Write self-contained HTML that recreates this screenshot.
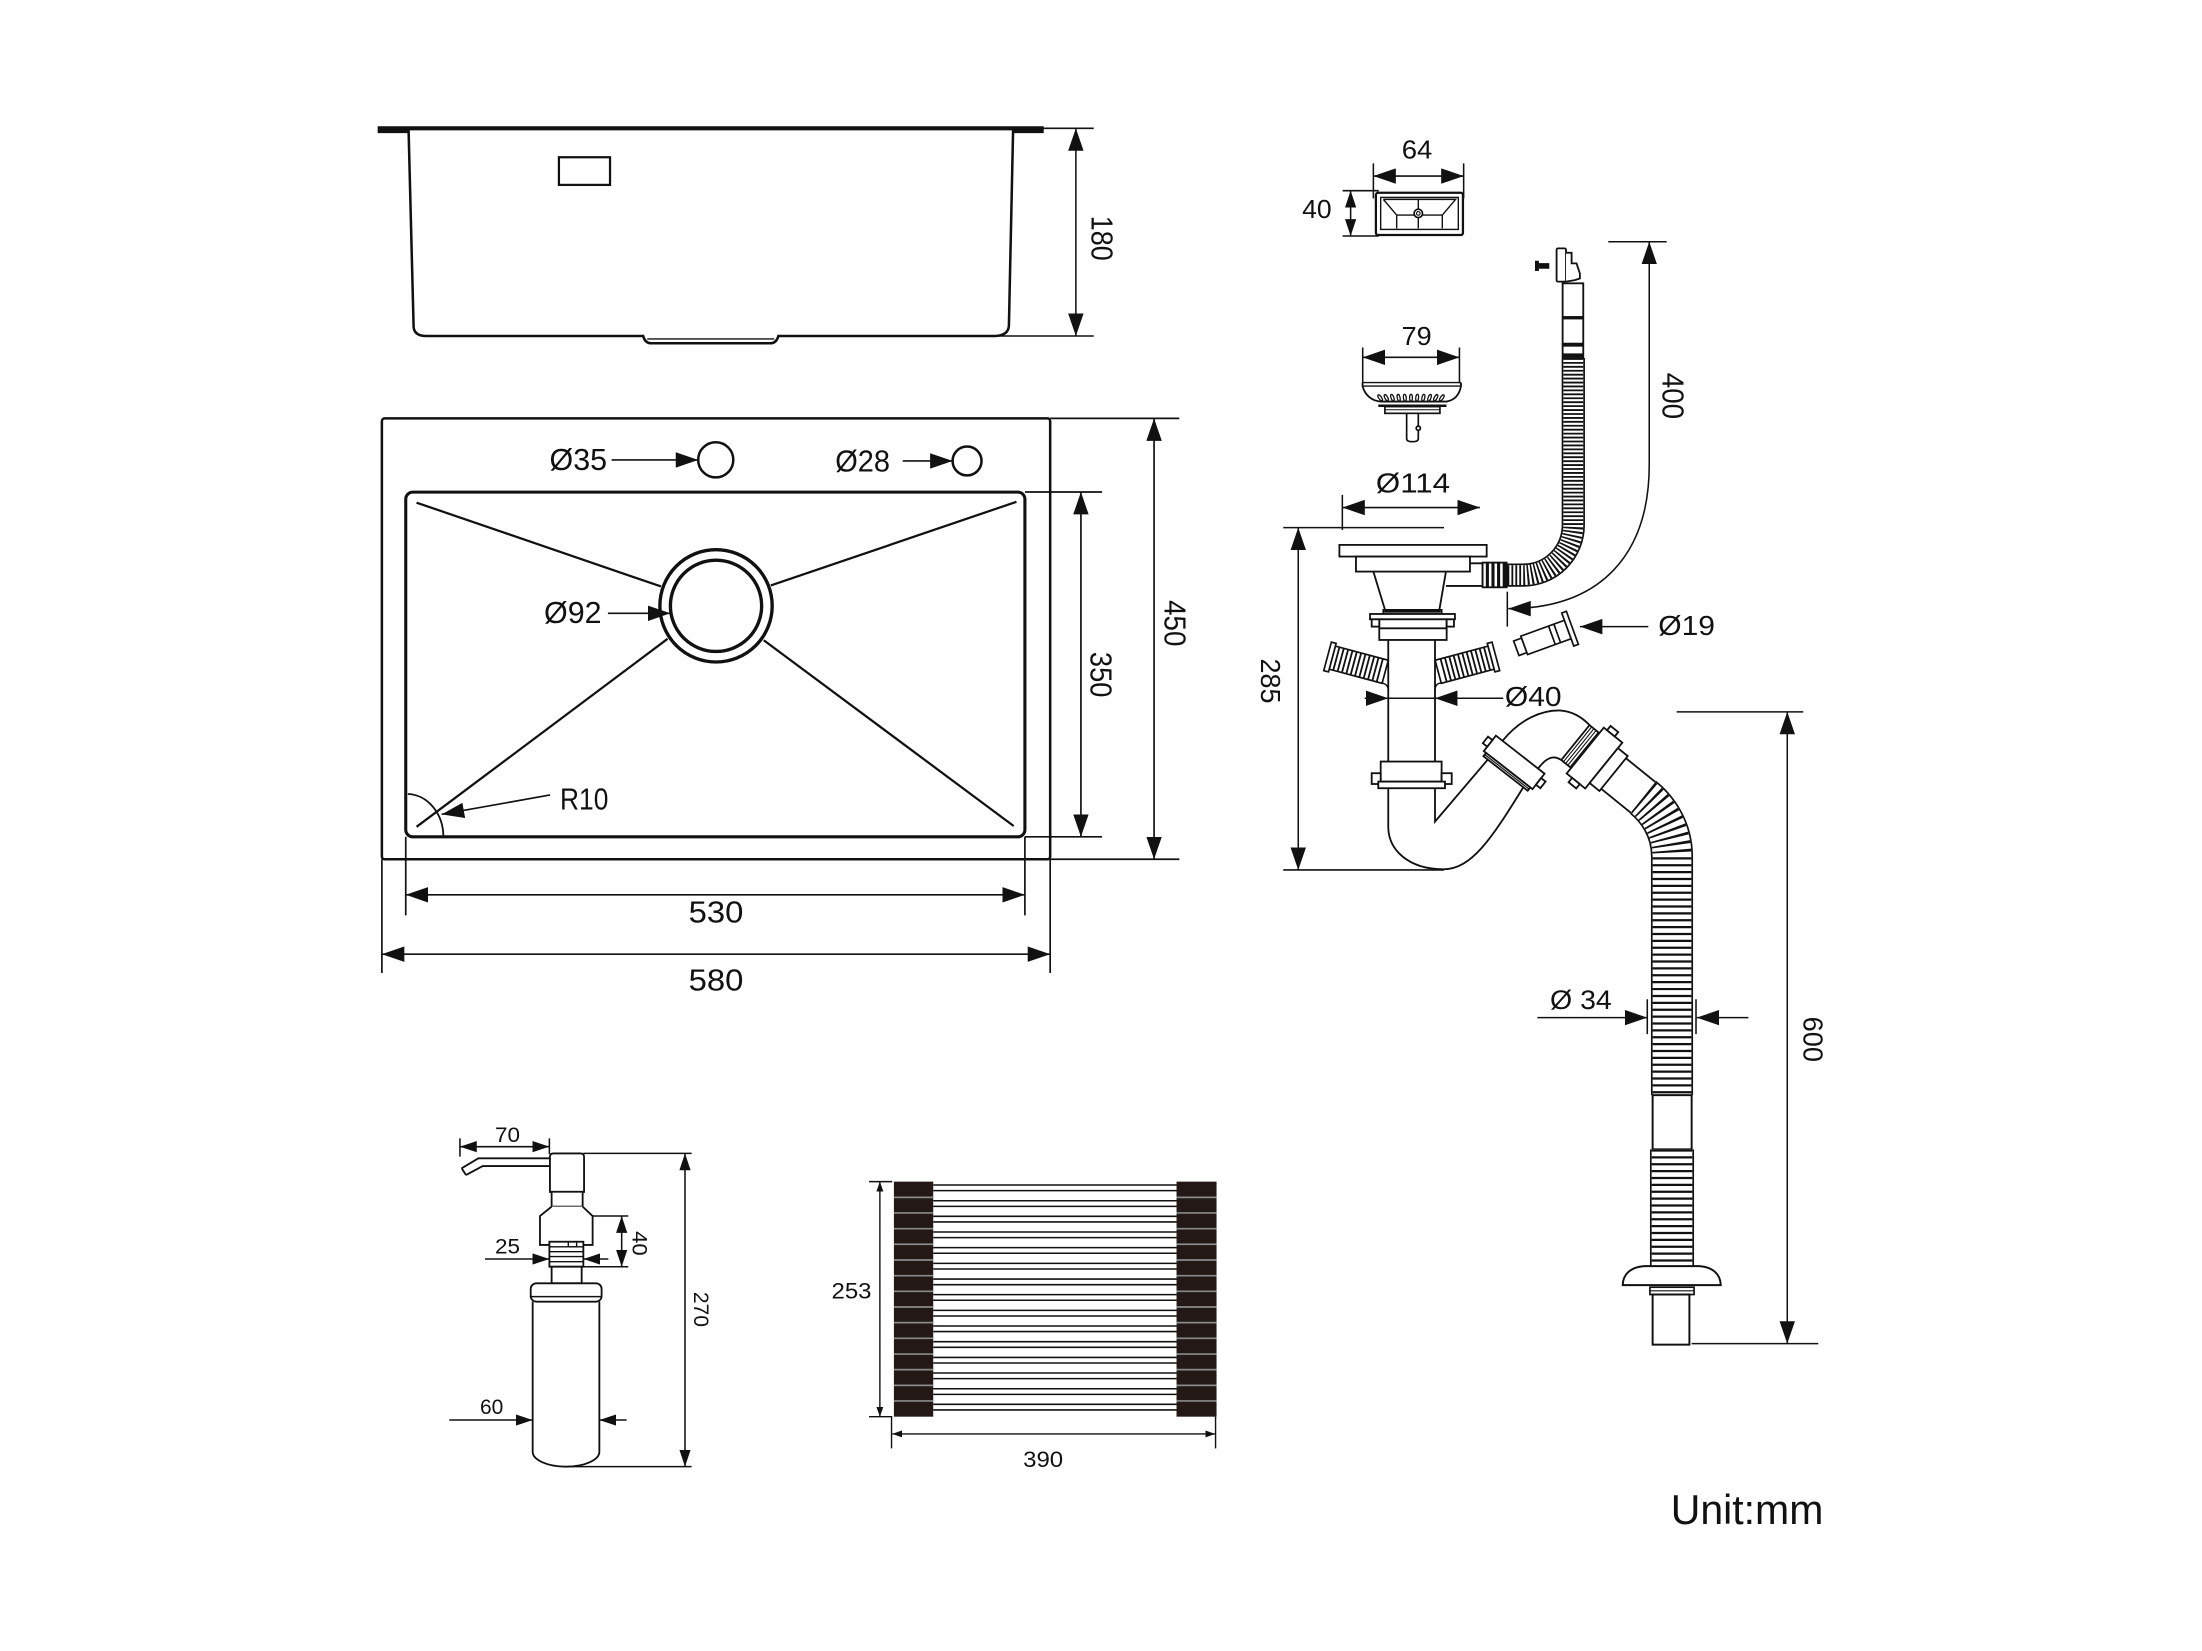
<!DOCTYPE html>
<html><head><meta charset="utf-8"><style>
html,body{margin:0;padding:0;background:#fff;}
svg{display:block;}
text{font-family:"Liberation Sans",Arial,sans-serif;fill:#111;}
</style></head><body>
<svg width="2202" height="1651" viewBox="0 0 1568.4 1175.9" preserveAspectRatio="none" xmlns="http://www.w3.org/2000/svg">
<defs>
<marker id="A" viewBox="0 0 16 11" refX="16" refY="5.5" markerWidth="16" markerHeight="11" markerUnits="userSpaceOnUse" orient="auto-start-reverse"><path d="M0,0L16,5.5L0,11z" fill="#111"/></marker>
<marker id="B" viewBox="0 0 12 8" refX="12" refY="4" markerWidth="12" markerHeight="8" markerUnits="userSpaceOnUse" orient="auto-start-reverse"><path d="M0,0L12,4L0,8z" fill="#111"/></marker>
<marker id="C" viewBox="0 0 7 5" refX="7" refY="2.5" markerWidth="7" markerHeight="5" markerUnits="userSpaceOnUse" orient="auto-start-reverse"><path d="M0,0L7,2.5L0,5z" fill="#111"/></marker>
</defs>
<rect width="1568.4" height="1175.9" fill="#fff"/>

<!-- ===== Side view ===== -->
<g fill="none" stroke="#111" stroke-width="1.6">
 <path d="M269 91.4H743.4" stroke-width="3"/>
 <path d="M269 93.6H291M721.6 93.6H743.4" stroke-width="2.4"/>
 <path d="M291 92L294.6 233Q295.2 239.3 303.6 239.3H458.1Q459.5 244.5 464 244.5H548.5Q553 244.5 554.4 239.3H708.8Q718.2 239 718.6 232L721.6 92" stroke-width="1.8"/>
 <path d="M461 241.4H551.5" stroke-width="0.9"/>
 <rect x="398.1" y="112" width="36.4" height="19.7"/>
</g>
<g stroke="#111" stroke-width="1.1" fill="none">
 <path d="M743 91.4H779M710.6 239.3H779"/>
 <line x1="766.3" y1="91.4" x2="766.3" y2="239.3" marker-start="url(#A)" marker-end="url(#A)"/>
</g>
<text transform="translate(785.2,169.7) rotate(90)" y="7.7" font-size="21.5" text-anchor="middle" textLength="32" lengthAdjust="spacingAndGlyphs">180</text>

<!-- ===== Top view ===== -->
<g fill="none" stroke="#111">
 <rect x="272" y="298" width="476" height="314" rx="2" stroke-width="1.8"/>
 <rect x="289" y="350.5" width="441" height="245.5" rx="5" stroke-width="2.2"/>
 <path d="M296.7 358L470.8 417.7M724 357.4L549 417M475.5 455L296.7 588.9M544 456L722 588.3" stroke-width="1.6"/>
 <circle cx="510" cy="431.5" r="40" stroke-width="2.4" fill="#fff"/>
 <circle cx="510" cy="431.5" r="32.5" stroke-width="2.4"/>
 <circle cx="509.8" cy="327.5" r="12.5" stroke-width="1.8"/>
 <circle cx="688.8" cy="328.3" r="10.3" stroke-width="1.8"/>
 <path d="M290.5 565.5A26 30.5 0 0 1 315.8 596" stroke-width="1.3"/>
</g>
<g stroke="#111" stroke-width="1.2" fill="none">
 <line x1="435.6" y1="327.6" x2="497.3" y2="327.6" marker-end="url(#A)"/>
 <line x1="643" y1="328.3" x2="678.5" y2="328.3" marker-end="url(#A)"/>
 <line x1="433" y1="436.8" x2="477.5" y2="436.8" marker-end="url(#A)"/>
 <line x1="391.8" y1="566.2" x2="314.6" y2="580" marker-end="url(#A)"/>
 <path d="M730 350.4H785M730 596H785"/>
 <line x1="769.9" y1="350.4" x2="769.9" y2="596" marker-start="url(#A)" marker-end="url(#A)"/>
 <path d="M748 298H840M748 612H840"/>
 <line x1="822" y1="298" x2="822" y2="612" marker-start="url(#A)" marker-end="url(#A)"/>
 <path d="M289 596V652M730 596V652"/>
 <line x1="289" y1="637.3" x2="730" y2="637.3" marker-start="url(#A)" marker-end="url(#A)"/>
 <path d="M272 612V693M748 612V693"/>
 <line x1="272" y1="679.6" x2="748" y2="679.6" marker-start="url(#A)" marker-end="url(#A)"/>
</g>
<g font-size="22">
 <text x="391.4" y="334.9" textLength="41" lengthAdjust="spacingAndGlyphs">Ø35</text>
 <text x="594.9" y="336" textLength="39" lengthAdjust="spacingAndGlyphs">Ø28</text>
 <text x="387.5" y="443.9" textLength="41" lengthAdjust="spacingAndGlyphs">Ø92</text>
 <text x="398.9" y="576.4" textLength="34.4" lengthAdjust="spacingAndGlyphs">R10</text>
 <text x="510" y="657.2" text-anchor="middle" textLength="39" lengthAdjust="spacingAndGlyphs">530</text>
 <text x="510" y="705.4" text-anchor="middle" textLength="39" lengthAdjust="spacingAndGlyphs">580</text>
 <text transform="translate(784.8,480.5) rotate(90)" y="7.9" text-anchor="middle" textLength="32.4" lengthAdjust="spacingAndGlyphs">350</text>
 <text transform="translate(837.5,443.9) rotate(90)" y="7.9" text-anchor="middle" textLength="33" lengthAdjust="spacingAndGlyphs">450</text>
</g>

<!-- ===== 64 x 40 overflow ===== -->
<g font-size="18.5">
 <text x="1009.3" y="112.8" text-anchor="middle" textLength="21.8" lengthAdjust="spacingAndGlyphs">64</text>
 <text x="938" y="155.1" text-anchor="middle" textLength="21" lengthAdjust="spacingAndGlyphs">40</text>
 <text x="1009" y="245.7" text-anchor="middle" textLength="21.4" lengthAdjust="spacingAndGlyphs">79</text>
</g>
<g stroke="#111" stroke-width="1.1" fill="none">
 <path d="M978.2 116.4V141.3M1042.5 116.4V141.3"/>
 <line x1="978.2" y1="125.4" x2="1042.5" y2="125.4" marker-start="url(#A)" marker-end="url(#A)"/>
 <path d="M956.3 135.8H982M956.3 168.1H982"/>
 <line x1="962" y1="135.8" x2="962" y2="168.1" marker-start="url(#B)" marker-end="url(#B)"/>
 <path d="M970.6 247.5V273M1039.5 247.5V273"/>
 <line x1="970.6" y1="254.5" x2="1039.5" y2="254.5" marker-start="url(#A)" marker-end="url(#A)"/>
</g>
<g fill="none" stroke="#111">
 <rect x="980" y="137.3" width="62" height="30.1" rx="1.5" stroke-width="1.6"/>
 <rect x="983.4" y="140.6" width="55.3" height="22.8" stroke-width="1"/>
 <path d="M985.3 142H1036.8L1027.3 153.2V162.7M985.3 142L994.8 153.2V162.7M994.8 153.2H1027.3M1010.2 142V162.7" stroke-width="1"/>
 <circle cx="1010.2" cy="152" r="3" stroke-width="1.2" fill="#fff"/>
 <circle cx="1010.2" cy="152" r="1.3" stroke-width="0.8"/>
</g>

<!-- ===== 79 strainer ===== -->
<g fill="none" stroke="#111" stroke-width="1.2">
 <path d="M970.5 272.5H1040.6M970.5 275H1040.6" stroke-width="1"/>
 <path d="M970.5 272.5V275C972 281 977 286 984 286H1030.3C1036 285 1039.5 281 1040.6 275V272.5" stroke-width="1.3"/>
 <g stroke-width="0.9">
  <ellipse cx="983" cy="283.3" rx="1" ry="2.5" transform="rotate(-35 983 283.3)"/>
  <ellipse cx="987.4" cy="283.3" rx="1" ry="2.5" transform="rotate(-28 987.4 283.3)"/>
  <ellipse cx="991.8" cy="283.3" rx="1" ry="2.5" transform="rotate(-20 991.8 283.3)"/>
  <ellipse cx="996.2" cy="283.3" rx="1" ry="2.5" transform="rotate(-12 996.2 283.3)"/>
  <ellipse cx="1000.6" cy="283.3" rx="1" ry="2.5" transform="rotate(-5 1000.6 283.3)"/>
  <ellipse cx="1005" cy="283.3" rx="1" ry="2.5"/>
  <ellipse cx="1009.4" cy="283.3" rx="1" ry="2.5" transform="rotate(5 1009.4 283.3)"/>
  <ellipse cx="1013.8" cy="283.3" rx="1" ry="2.5" transform="rotate(12 1013.8 283.3)"/>
  <ellipse cx="1018.2" cy="283.3" rx="1" ry="2.5" transform="rotate(20 1018.2 283.3)"/>
  <ellipse cx="1022.6" cy="283.3" rx="1" ry="2.5" transform="rotate(28 1022.6 283.3)"/>
  <ellipse cx="1027" cy="283.3" rx="1" ry="2.5" transform="rotate(35 1027 283.3)"/>
 </g>
 <path d="M981.7 289H1030.3" stroke-width="1.8"/>
 <rect x="986.4" y="289.6" width="39.2" height="4.8" fill="#fff"/>
 <path d="M986.4 291.8H1025.6" stroke-width="0.7"/>
 <path d="M1001.9 294.4V312.5Q1001.9 314.6 1006 314.6Q1010.2 314.6 1010.2 312.5V294.4"/>
 <circle cx="1010.2" cy="305" r="1.5" fill="#fff"/>
</g>

<!-- ===== 400 hose ===== -->
<g fill="none" stroke="#111">
 <path d="M1120.6 255V374A35.6 35.6 0 0 1 1085 409.6H1073" stroke-width="16.6"/>
 <path d="M1120.6 255V374A35.6 35.6 0 0 1 1085 409.6H1073" stroke="#fff" stroke-width="14.2"/>
 <path d="M1120.6 255V374A35.6 35.6 0 0 1 1085 409.6H1073" stroke-width="14.2" stroke-dasharray="1.3 1.5"/>
 <rect x="1113" y="201.8" width="14.7" height="53.2" fill="#fff" stroke-width="1.3"/>
 <rect x="1108.7" y="176.9" width="6.7" height="23.7" rx="1" fill="#fff" stroke-width="1.3"/>
 <path d="M1115.4 180H1119.4V187.6H1122.9L1125.3 194.7V198.3L1121.8 199.5L1115.4 200.6" fill="#fff" stroke-width="1.3"/>
 <rect x="1093.3" y="185.7" width="2.8" height="7.3" fill="#111" stroke="none"/>
 <rect x="1096" y="187.4" width="7.5" height="4" fill="#111" stroke="none"/>
</g>
<g fill="#111">
 <rect x="1112.5" y="225.1" width="15.7" height="2.4"/>
 <rect x="1112.5" y="244.1" width="15.7" height="2.8"/>
 <rect x="1112.5" y="251.7" width="15.7" height="2.8"/>
</g>
<g stroke="#111" stroke-width="1.1" fill="none">
 <path d="M1145.5 172.2H1187.1"/>
 <path d="M1174.7 172.2V330C1175 395 1140 433.5 1074.3 433.5" marker-start="url(#A)" marker-end="url(#A)"/>
 <path d="M1073.6 421.4V446.3"/>
</g>
<text transform="translate(1191.8,282) rotate(90)" y="7.7" font-size="21.5" text-anchor="middle" textLength="33" lengthAdjust="spacingAndGlyphs">400</text>

<!-- ===== Strainer + trap ===== -->
<text x="1006.4" y="350.9" font-size="19.5" text-anchor="middle" textLength="52.8" lengthAdjust="spacingAndGlyphs">Ø114</text>
<g stroke="#111" stroke-width="1.1" fill="none">
 <path d="M956.1 352.5V377.5"/>
 <line x1="956.1" y1="361.5" x2="1054.1" y2="361.5" marker-start="url(#A)" marker-end="url(#A)"/>
 <path d="M914 375.8H1028.5M914 619.6H1028.5"/>
 <line x1="924.7" y1="375.8" x2="924.7" y2="619.6" marker-start="url(#A)" marker-end="url(#A)"/>
</g>
<text transform="translate(905,485) rotate(90)" y="7" font-size="19.5" text-anchor="middle" textLength="32" lengthAdjust="spacingAndGlyphs">285</text>

<g fill="#fff" stroke="#111" stroke-width="1.3">
 <rect x="954" y="388.1" width="104.9" height="8.3"/>
 <rect x="965.8" y="396.4" width="81.2" height="10.7"/>
 <path d="M978.2 407.1L986.5 434.4M1029.9 407.1L1025.2 434.4" fill="none"/>
 <path d="M1047 401.2H1056V417.3H1029.9" fill="none"/>
 <rect x="1056" y="400.7" width="17.1" height="17.6"/>
 <rect x="985.3" y="434.4" width="41.5" height="3.2"/>
 <rect x="975.8" y="437.3" width="60.5" height="3.8"/>
 <rect x="982.4" y="441.1" width="48" height="14.7"/>
 <rect x="977" y="441.1" width="5.4" height="5.2"/>
 <rect x="1030.4" y="441.1" width="5.2" height="5.2"/>
 <path d="M982.4 447.5H1030.4" fill="none"/>
</g>
<g fill="#111">
 <rect x="1058.3" y="400.7" width="2.2" height="17.6"/>
 <rect x="1062.3" y="400.7" width="2.2" height="17.6"/>
 <rect x="1066.3" y="400.7" width="2.2" height="17.6"/>
 <rect x="1070.3" y="400.7" width="2.8" height="17.6"/>
 <rect x="986" y="434.8" width="40" height="1.6"/>
</g>

<!-- branches -->
<g transform="translate(947.5,468) rotate(15)" stroke="#111" fill="#fff">
 <rect x="1.5" y="-8.5" width="39" height="17" stroke-width="1.2"/>
 <path d="M4.5 -8.5V8.5M7.7 -8.5V8.5M10.9 -8.5V8.5M14.1 -8.5V8.5M17.3 -8.5V8.5M20.5 -8.5V8.5M23.7 -8.5V8.5M26.9 -8.5V8.5M30.1 -8.5V8.5M33.3 -8.5V8.5M36.5 -8.5V8.5" stroke-width="1.3" fill="none"/>
 <rect x="-2" y="-10.5" width="3.5" height="21" stroke-width="1.2"/>
</g>
<g transform="translate(1063.5,468) rotate(-15)" stroke="#111" fill="#fff">
 <rect x="-40.5" y="-8.5" width="39" height="17" stroke-width="1.2"/>
 <path d="M-4.5 -8.5V8.5M-7.7 -8.5V8.5M-10.9 -8.5V8.5M-14.1 -8.5V8.5M-17.3 -8.5V8.5M-20.5 -8.5V8.5M-23.7 -8.5V8.5M-26.9 -8.5V8.5M-30.1 -8.5V8.5M-33.3 -8.5V8.5M-36.5 -8.5V8.5" stroke-width="1.3" fill="none"/>
 <rect x="-1.5" y="-10.5" width="3.5" height="21" stroke-width="1.2"/>
</g>
<g fill="none" stroke="#111" stroke-width="1.3">
 <path d="M988.8 455.8V542.4M1022.1 455.8V542.4"/>
 <path d="M984 486.5Q988.8 487 988.8 492M1026 486.5Q1022.1 487 1022.1 492" stroke-width="1"/>
</g>
<!-- lower nut -->
<g fill="#fff" stroke="#111" stroke-width="1.3">
 <rect x="983.4" y="542.4" width="43.4" height="14.3"/>
 <rect x="977" y="550.7" width="6.4" height="7.7"/>
 <rect x="1026.8" y="550.7" width="7.2" height="7.7"/>
 <rect x="981.7" y="556.7" width="47.5" height="4.7"/>
</g>
<!-- trap -->
<g fill="none" stroke="#111" stroke-width="1.3">
 <path d="M988.8 561.4V588.7C988.8 606 1004 619.1 1028 619.1C1048 619.1 1062 598 1085 560.7"/>
 <path d="M1022.1 561.4V585.2L1059.7 541"/>
 <path d="M1070.2 527.6C1083 512 1098 505.8 1111 506C1119 506.5 1126 510 1132.2 516.5"/>
 <path d="M1095.4 547.4C1099 543 1102 540 1106 539.5C1108.5 539.3 1110 540 1112 541.3"/>
</g>
<g transform="translate(1078.5,543) rotate(38)" fill="#fff" stroke="#111" stroke-width="1.3">
 <rect x="-22" y="-7" width="44" height="14"/>
 <rect x="-20" y="7" width="40" height="3"/>
 <path d="M-20 8.5H20" stroke-width="0.8" fill="none"/>
 <rect x="-26" y="-3" width="4" height="6"/>
 <rect x="22" y="-3" width="4" height="6"/>
</g>
<g transform="translate(1122.1,528.9) rotate(39)" fill="#fff" stroke="#111" stroke-width="1.3">
 <rect x="0" y="-16" width="9" height="32"/>
 <path d="M2 -16V16M4 -16V16M6 -16V16M8 -16V16" stroke-width="0.8" fill="none"/>
 <rect x="9" y="-21" width="17" height="42"/>
 <rect x="12" y="-25" width="7" height="4"/>
 <rect x="14" y="21" width="7" height="4"/>
 <rect x="26" y="-16" width="9" height="32"/>
 <path d="M35 -14H62M35 14H62" fill="none"/>
</g>

<!-- 600 hose -->
<g fill="none" stroke="#111">
 <path d="M1170.3 567.9C1180 575.7 1190.9 590 1190.9 610V780" stroke-width="30"/>
 <path d="M1170.3 567.9C1180 575.7 1190.9 590 1190.9 610V780" stroke="#fff" stroke-width="27.6"/>
 <path d="M1170.3 567.9C1180 575.7 1190.9 590 1190.9 610V780" stroke-width="27.6" stroke-dasharray="1.6 3.3"/>
 <rect x="1177.1" y="780" width="27.8" height="38.6" fill="#fff" stroke-width="1.4"/>
 <path d="M1190.9 818.6V901.6" stroke-width="31.4"/>
 <path d="M1190.9 818.6V901.6" stroke="#fff" stroke-width="29"/>
 <path d="M1190.9 818.6V901.6" stroke-width="29" stroke-dasharray="1.6 3.3"/>
 <path d="M1155.8 915.3C1156 907 1162 902.5 1171 901.8H1210.5C1219.5 902.5 1225.4 907 1225.6 915.3Z" fill="#fff" stroke-width="1.4"/>
 <rect x="1175.2" y="916.8" width="31.4" height="5.2" fill="#fff" stroke-width="1.2"/>
 <path d="M1175.2 919.4H1206.6" stroke-width="0.8"/>
 <rect x="1177.1" y="922" width="26.2" height="35.7" fill="#fff" stroke-width="1.4"/>
</g>
<g stroke="#111" stroke-width="1.1" fill="none">
 <path d="M1194.2 507H1284.4M1204.9 957H1295.1"/>
 <line x1="1273" y1="507" x2="1273" y2="957" marker-start="url(#A)" marker-end="url(#A)"/>
 <line x1="1095" y1="724.8" x2="1173.3" y2="724.8" marker-end="url(#A)"/>
 <line x1="1245.3" y1="724.8" x2="1208.5" y2="724.8" marker-end="url(#A)"/>
 <path d="M1173.3 711.7V736.5M1208 711.7V736.5"/>
</g>
<text transform="translate(1291.6,740.2) rotate(90)" y="7" font-size="19.5" text-anchor="middle" textLength="32.3" lengthAdjust="spacingAndGlyphs">600</text>
<text x="1104" y="718.6" font-size="19" textLength="44" lengthAdjust="spacingAndGlyphs">Ø 34</text>

<!-- Ø40 / Ø19 -->
<g stroke="#111" stroke-width="1.1" fill="none">
 <line x1="972" y1="497.3" x2="988.8" y2="497.3" marker-end="url(#A)"/>
 <path d="M988.8 497.3H1022.1"/>
 <line x1="1070.7" y1="497.3" x2="1022.1" y2="497.3" marker-end="url(#A)"/>
 <line x1="1174" y1="446.3" x2="1125.3" y2="446.3" marker-end="url(#A)"/>
</g>
<text x="1071.9" y="502.8" font-size="19.5" textLength="40.4" lengthAdjust="spacingAndGlyphs">Ø40</text>
<text x="1181.1" y="452.2" font-size="19.5" textLength="40.4" lengthAdjust="spacingAndGlyphs">Ø19</text>
<g transform="translate(1080,461.7) rotate(-20)" fill="#fff" stroke="#111" stroke-width="1.2">
 <rect x="0" y="-5.5" width="6" height="11"/>
 <rect x="6" y="-7" width="33" height="14"/>
 <path d="M27 -7V7M31 -7V7" fill="none"/>
 <rect x="39" y="-12.5" width="3.5" height="25"/>
</g>

<!-- ===== Soap dispenser ===== -->
<g fill="none" stroke="#111" stroke-width="1.3">
 <path d="M328.8 832.1L340.7 825H391.7M331.9 836.9L343.8 830.5H391.7M328.8 832.1L331.9 836.9"/>
 <path d="M391.7 849V824Q391.7 821.5 394.2 821.5H413.5Q416 821.5 416 824V849Z" fill="#fff"/>
 <rect x="392.9" y="848.8" width="22.1" height="10.6" fill="#fff"/>
 <path d="M392.9 859.4L384.6 866.1V886.7H422.1V866.1L415 859.4" fill="#fff"/>
 <rect x="391.3" y="884.4" width="24.2" height="17.8" fill="#fff"/>
 <path d="M391.3 888H415.5M391.3 891.5H415.5M391.3 895H415.5M391.3 898.6H415.5" stroke-width="1"/>
 <path d="M404.8 884.4V888H410.7V884.4" stroke-width="1"/>
 <rect x="392.9" y="902.2" width="21.4" height="11.8" fill="#fff"/>
 <rect x="378" y="914" width="50.5" height="13.1" rx="4" fill="#fff"/>
 <path d="M378.5 923.5H428" stroke-width="1"/>
 <path d="M379.4 927.1V1034A23.75 10.6 0 0 0 426.9 1034V927.1"/>
</g>
<g stroke="#111" stroke-width="1.1" fill="none">
 <path d="M327.6 810.8V823.8M391.3 810.8V822"/>
 <line x1="327.6" y1="816.7" x2="391.3" y2="816.7" marker-start="url(#B)" marker-end="url(#B)"/>
 <line x1="345.4" y1="896.7" x2="391.3" y2="896.7" marker-end="url(#B)"/>
 <line x1="433.3" y1="896.7" x2="415.5" y2="896.7" marker-end="url(#B)"/>
 <path d="M422.1 866.1H447.5M415.5 902.2H447.5"/>
 <line x1="442.8" y1="866.1" x2="442.8" y2="902.2" marker-start="url(#B)" marker-end="url(#B)"/>
 <line x1="320" y1="1011.4" x2="379.4" y2="1011.4" marker-end="url(#B)"/>
 <line x1="446.3" y1="1011.4" x2="426.9" y2="1011.4" marker-end="url(#B)"/>
 <path d="M415.5 821.5H492.6M403.6 1044.6H492.6"/>
 <line x1="487.9" y1="821.5" x2="487.9" y2="1044.6" marker-start="url(#B)" marker-end="url(#B)"/>
</g>
<g font-size="15">
 <text x="361.5" y="813.2" text-anchor="middle" textLength="17.8" lengthAdjust="spacingAndGlyphs">70</text>
 <text x="361.5" y="892.7" text-anchor="middle" textLength="17.8" lengthAdjust="spacingAndGlyphs">25</text>
 <text x="350.2" y="1007.1" text-anchor="middle" textLength="16.6" lengthAdjust="spacingAndGlyphs">60</text>
 <text transform="translate(455.8,885.6) rotate(90)" y="5.4" text-anchor="middle" textLength="17.5" lengthAdjust="spacingAndGlyphs">40</text>
 <text transform="translate(499.8,932.6) rotate(90)" y="5.4" text-anchor="middle" textLength="25" lengthAdjust="spacingAndGlyphs">270</text>
</g>

<!-- ===== Roll mat ===== -->
<g fill="#231815">
 <rect x="636.7" y="841.6" width="28" height="167.4"/>
 <rect x="838" y="841.6" width="28.5" height="167.4"/>
</g>
<g stroke="#8a8a8a" stroke-width="1.2" fill="none">
 <path d="M636.7 852.8H664.7M636.7 863.9H664.7M636.7 875.1H664.7M636.7 886.2H664.7M636.7 897.4H664.7M636.7 908.6H664.7M636.7 919.7H664.7M636.7 930.9H664.7M636.7 942H664.7M636.7 953.2H664.7M636.7 964.4H664.7M636.7 975.5H664.7M636.7 986.7H664.7M636.7 997.8H664.7"/>
 <path d="M838 852.8H866.5M838 863.9H866.5M838 875.1H866.5M838 886.2H866.5M838 897.4H866.5M838 908.6H866.5M838 919.7H866.5M838 930.9H866.5M838 942H866.5M838 953.2H866.5M838 964.4H866.5M838 975.5H866.5M838 986.7H866.5M838 997.8H866.5"/>
</g>
<path stroke="#111" stroke-width="1.1" fill="none" d="M664.7 844H838M664.7 848H838M664.7 855.2H838M664.7 859.2H838M664.7 866.3H838M664.7 870.3H838M664.7 877.5H838M664.7 881.5H838M664.7 888.6H838M664.7 892.6H838M664.7 899.8H838M664.7 903.8H838M664.7 911H838M664.7 915H838M664.7 922.1H838M664.7 926.1H838M664.7 933.3H838M664.7 937.3H838M664.7 944.4H838M664.7 948.4H838M664.7 955.6H838M664.7 959.6H838M664.7 966.8H838M664.7 970.8H838M664.7 977.9H838M664.7 981.9H838M664.7 989.1H838M664.7 993.1H838M664.7 1000.2H838M664.7 1004.2H838"/>
<g stroke="#111" stroke-width="1" fill="none">
 <path d="M619 841.6H635.5M619 1009H635.5"/>
 <line x1="626.7" y1="841.6" x2="626.7" y2="1009" marker-start="url(#C)" marker-end="url(#C)"/>
 <path d="M635 1009V1031.6M865.8 1009V1031.6"/>
 <line x1="635.5" y1="1021.3" x2="865.5" y2="1021.3" marker-start="url(#C)" marker-end="url(#C)"/>
</g>
<g font-size="16">
 <text x="606.5" y="924.7" text-anchor="middle" textLength="28.5" lengthAdjust="spacingAndGlyphs">253</text>
 <text x="743" y="1045" text-anchor="middle" textLength="28.5" lengthAdjust="spacingAndGlyphs">390</text>
</g>

<!-- Unit -->
<text x="1190" y="1085.5" font-size="29.5" textLength="108.7" lengthAdjust="spacingAndGlyphs">Unit:mm</text>
</svg>
</body></html>
